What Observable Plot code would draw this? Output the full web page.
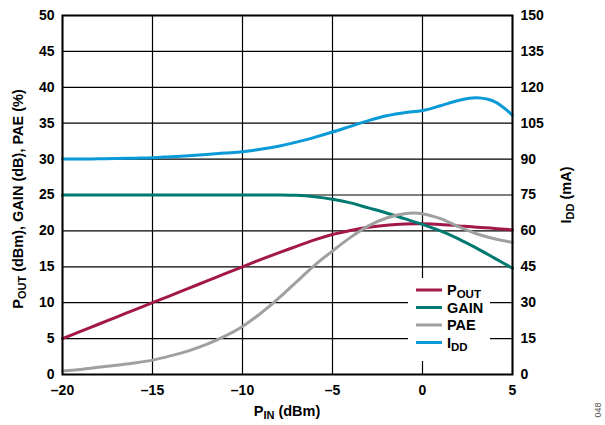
<!DOCTYPE html>
<html><head><meta charset="utf-8">
<script src="https://cdn.jsdelivr.net/npm/d3@7"></script>
<script src="https://cdn.jsdelivr.net/npm/@observablehq/plot@0.6"></script>
<style>body{margin:0;background:#fff} svg{font-family:"Liberation Sans",Arial,sans-serif}</style>
</head><body><div id="chart"></div>
<script>
const pin = [-20,-19,-18,-17,-16,-15,-14,-13,-12,-11,-10,-9,-8,-7,-6,-5,-4,-3,-2,-1,0,1,2,3,4,5];
const pout = [5,6,7,8,9,10,11,12,13,14,15,16,16.95,17.85,18.75,19.5,20.05,20.5,20.8,20.97,21.0,20.9,20.7,20.5,20.35,20.15];
const gain = [25,25,25,25,25,25,25,25,25,25,25,25,25,24.95,24.75,24.4,23.9,23.2,22.5,21.7,20.9,20.0,18.9,17.6,16.2,14.8];
const pae = [0.5,0.7,1.0,1.3,1.6,2.0,2.6,3.3,4.2,5.3,6.7,8.5,10.6,12.9,15.2,17.2,19.1,20.7,21.8,22.4,22.4,21.7,20.6,19.6,18.9,18.4];
const idd = [90,90,90.1,90.2,90.4,90.6,91,91.4,91.9,92.5,93.1,94.1,95.4,97.1,99.1,101.3,103.7,106.1,108.1,109.4,110.3,112.3,114.5,115.6,114,108.3];
const seriesNames = ["POUT","GAIN","PAE","IDD"];
const seriesColors = ["#A3184A","#007A70","#A0A0A0","#0A9AD7"];
const xTicks = [-20,-15,-10,-5,0,5];
const leftTicks = [0,5,10,15,20,25,30,35,40,45,50];
const rightTicks = [0,15,30,45,60,75,90,105,120,135,150];
const rightScale = 3; // right axis value = left axis value * 3

const rows = [];
[[pout,1],[gain,1],[pae,1],[idd,rightScale]].forEach(([vals,k],j)=>{
  pin.forEach((x,i)=>rows.push({x, y: vals[i]/k, s: seriesNames[j]}));
});

const chart = Plot.plot({
  width:605, height:425,
  marginLeft:62, marginRight:93, marginTop:15, marginBottom:51,
  style:{fontFamily:"Liberation Sans, Arial, sans-serif", fontSize:"14px", fontWeight:"bold", background:"#fff", color:"#000"},
  x:{domain:[-20,5]},
  y:{domain:[0,50]},
  color:{domain:seriesNames, range:seriesColors},
  marks:[
    Plot.gridX(xTicks,{stroke:"#000", strokeOpacity:1, strokeWidth:1.2}),
    Plot.gridY(leftTicks,{stroke:"#000", strokeOpacity:1, strokeWidth:1.2}),
    Plot.axisX(xTicks,{tickSize:0, tickPadding:11, label:null, tickFormat:d=>String(d).replace("-","\u2013")}),
    Plot.axisY(leftTicks,{anchor:"left", tickSize:0, tickPadding:8, label:null}),
    Plot.axisY(rightTicks.map(d=>d/rightScale),{anchor:"right", tickSize:0, tickPadding:8, label:null, tickFormat:d=>Math.round(d*rightScale)}),
    Plot.line(rows,{x:"x", y:"y", stroke:"s", z:"s", curve:"catmull-rom", strokeWidth:3}),
    Plot.frame({stroke:"#000", strokeWidth:2})
  ]
});
document.getElementById("chart").appendChild(chart);

const svg = d3.select(chart);
// legend
const lg = svg.append("g").attr("text-anchor","start");
lg.append("rect").attr("x",408).attr("y",278).attr("width",82).attr("height",83).attr("fill","#fff");
const ly = [290, 307.5, 325, 342.5];
const labels = [["P","OUT"],["GAIN",""],["PAE",""],["I","DD"]];
labels.forEach((l,i)=>{
  lg.append("line").attr("x1",416).attr("x2",442).attr("y1",ly[i]).attr("y2",ly[i])
    .attr("stroke",seriesColors[i]).attr("stroke-width",3);
  const t = lg.append("text").attr("x",447).attr("y",ly[i]+5).attr("font-size",14.5).attr("font-weight","bold").attr("fill","#000");
  if (l[1]) { t.append("tspan").text(l[0]); t.append("tspan").attr("font-size",11.5).attr("dy",3).text(l[1]); }
  else t.text(l[0]);
});
// axis titles
const lt = svg.append("text").attr("transform","translate(23,199) rotate(-90)").attr("text-anchor","middle")
  .attr("font-size",14.5).attr("font-weight","bold");
lt.append("tspan").text("P");
lt.append("tspan").attr("font-size",11).attr("dy",3).text("OUT");
lt.append("tspan").attr("dy",-3).text(" (dBm), GAIN (dB), PAE (%)");
const rt = svg.append("text").attr("transform","translate(571,195) rotate(-90)").attr("text-anchor","middle")
  .attr("font-size",14.5).attr("font-weight","bold");
rt.append("tspan").text("I");
rt.append("tspan").attr("font-size",11).attr("dy",3).text("DD");
rt.append("tspan").attr("dy",-3).text(" (mA)");
const bt = svg.append("text").attr("x",287).attr("y",416).attr("text-anchor","middle")
  .attr("font-size",14.5).attr("font-weight","bold");
bt.append("tspan").text("P");
bt.append("tspan").attr("font-size",11).attr("dy",3).text("IN");
bt.append("tspan").attr("dy",-3).text(" (dBm)");
svg.append("text").attr("transform","translate(601,410) rotate(-90)").attr("text-anchor","middle")
  .attr("font-size",9).attr("font-weight","normal").attr("fill","#555").text("048");
</script></body></html>
